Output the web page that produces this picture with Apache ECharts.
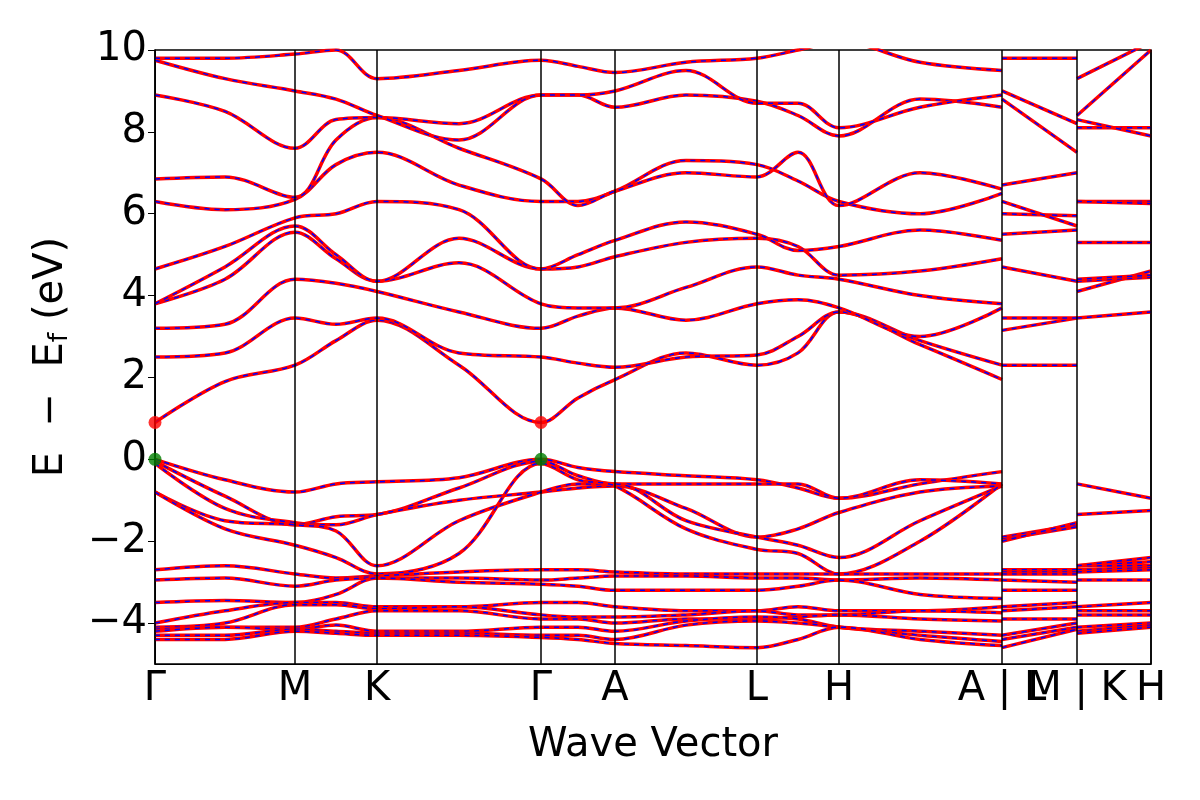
<!DOCTYPE html>
<html>
<head>
<meta charset="utf-8">
<script src="https://cdn.jsdelivr.net/npm/echarts@6/dist/echarts.min.js"></script>
<style>html,body{margin:0;padding:0;background:#fff}#chart{width:1200px;height:800px}</style>
</head>
<body>
<div id="chart"></div>
<script>
// path distances (px-like units) along Γ-M-K-Γ-A-L-H-A, then L|M, K|H segments
var pathX = [0, 70, 140, 181, 222, 304, 386, 423, 460, 531, 602, 643, 684, 765, 847];
var lmX = [847, 922];
var khX = [922, 996];
var kLabels = ["Γ", "M", "K", "Γ", "A", "L", "H", "A | L", "M | K", "H"];
var kPos = [0, 140, 222, 386, 460, 602, 684, 847, 922, 996];

var bands = [
  {p: [0.9,1.9,2.3,2.9,3.4,2.3,0.9,1.5,1.95,2.6,2.3,2.6,3.6,2.8,1.95], lm: [2.3,2.3], kh: [3.45,3.6]},
  {p: [2.5,2.6,3.45,3.3,3.45,2.6,2.5,2.35,2.25,2.5,2.55,3.0,3.6,2.9,2.3], lm: [3.15,3.45], kh: [4.1,4.6]},
  {p: [3.2,3.3,4.4,4.3,4.1,3.6,3.2,3.5,3.7,3.4,3.8,3.9,3.7,3.0,3.7], lm: [3.45,3.45], kh: [4.35,4.45]},
  {p: [3.8,4.4,5.55,4.9,4.35,4.8,3.8,3.7,3.7,4.2,4.7,4.5,4.4,4.0,3.8], lm: [4.7,4.35], kh: [4.4,4.5]},
  {p: [3.8,4.7,5.7,5.0,4.35,5.4,4.65,4.7,4.95,5.3,5.4,5.2,4.5,4.6,4.9], lm: [5.5,5.6], kh: [5.3,5.3]},
  {p: [4.65,5.2,5.9,6.0,6.3,6.1,4.65,5.0,5.35,5.8,5.5,5.1,5.2,5.6,5.35], lm: [6.0,5.95], kh: [6.3,6.3]},
  {p: [6.3,6.1,6.35,7.2,7.5,6.7,6.3,6.3,6.55,7.3,7.2,6.8,6.3,6.0,6.5], lm: [6.3,5.7], kh: [6.3,6.25]},
  {p: [6.85,6.9,6.4,7.8,8.35,7.6,6.85,6.2,6.55,7.0,6.9,7.5,6.2,7.0,6.6], lm: [6.7,7.0], kh: [8.1,8.1]},
  {p: [8.9,8.5,7.6,8.3,8.35,8.2,8.9,8.9,8.6,8.9,8.75,8.4,7.9,8.8,8.6], lm: [8.8,7.5], kh: [8.3,7.9]},
  {p: [9.75,9.3,9.0,8.8,8.4,7.8,8.9,8.9,9.0,9.5,8.7,8.7,8.1,8.6,8.9], lm: [9.0,8.2], kh: [8.4,10.0]},
  {p: [9.8,9.8,9.9,10.0,9.3,9.5,9.75,9.6,9.45,9.7,9.8,10.0,10.2,9.7,9.5], lm: [9.8,9.8], kh: [9.3,10.2]},
  {p: [0,-0.5,-0.8,-0.6,-0.55,-0.45,0,-0.2,-0.3,-0.4,-0.5,-0.7,-0.95,-0.6,-0.3], lm: [-1.9,-1.6], kh: [-0.6,-0.95]},
  {p: [-0.05,-0.9,-1.6,-1.4,-1.35,-0.7,-0.05,-0.4,-0.6,-0.6,-0.6,-0.6,-0.95,-0.5,-0.6], lm: [-1.95,-1.65], kh: [-1.35,-1.25]},
  {p: [-0.1,-1.2,-1.55,-1.6,-1.35,-1.0,-0.8,-0.7,-0.65,-1.2,-1.9,-1.7,-1.3,-0.8,-0.65], lm: [-2.0,-1.55], kh: [-2.6,-2.5]},
  {p: [-0.8,-1.5,-1.6,-1.75,-2.6,-1.5,-0.8,-0.6,-0.6,-1.5,-1.9,-2.1,-2.4,-1.5,-0.65], lm: [-2.7,-2.7], kh: [-2.6,-2.6]},
  {p: [-0.8,-1.7,-2.1,-2.4,-2.8,-2.3,-0.1,-0.5,-0.65,-1.7,-2.2,-2.3,-2.8,-2.0,-0.6], lm: [-2.75,-2.75], kh: [-2.7,-2.65]},
  {p: [-2.7,-2.6,-2.8,-2.9,-2.85,-2.75,-2.7,-2.7,-2.75,-2.8,-2.8,-2.8,-2.8,-2.8,-2.8], lm: [-2.8,-2.8], kh: [-2.6,-2.4]},
  {p: [-2.95,-2.9,-3.1,-2.95,-2.9,-2.9,-2.95,-2.9,-2.85,-2.85,-2.9,-2.9,-2.95,-2.9,-2.95], lm: [-2.95,-3.0], kh: [-2.75,-2.7]},
  {p: [-3.5,-3.45,-3.5,-3.3,-2.9,-3.0,-3.05,-3.1,-3.2,-3.2,-3.2,-3.1,-2.95,-3.3,-3.4], lm: [-3.2,-3.2], kh: [-2.95,-2.95]},
  {p: [-4.0,-3.7,-3.5,-3.5,-3.6,-3.6,-3.5,-3.5,-3.6,-3.7,-3.7,-3.6,-3.7,-3.7,-3.6], lm: [-3.6,-3.5], kh: [-3.6,-3.5]},
  {p: [-4.1,-4.0,-3.55,-3.55,-3.65,-3.6,-3.8,-3.85,-3.85,-3.8,-3.7,-3.8,-3.8,-3.7,-3.75], lm: [-3.7,-3.6], kh: [-3.7,-3.7]},
  {p: [-4.15,-4.1,-4.1,-3.9,-3.7,-3.7,-3.9,-3.9,-4.0,-3.9,-3.9,-3.85,-3.8,-3.9,-3.95], lm: [-3.9,-3.9], kh: [-3.8,-3.8]},
  {p: [-4.2,-4.1,-4.15,-4.05,-4.2,-4.2,-4.1,-4.1,-4.2,-3.95,-3.85,-3.9,-4.1,-4.2,-4.3], lm: [-4.3,-4.0], kh: [-4.1,-4.0]},
  {p: [-4.3,-4.3,-4.15,-4.2,-4.25,-4.25,-4.3,-4.3,-4.4,-4.05,-3.95,-4.0,-4.1,-4.3,-4.45], lm: [-4.4,-4.1], kh: [-4.2,-4.05]},
  {p: [-4.4,-4.4,-4.2,-4.25,-4.3,-4.3,-4.35,-4.4,-4.5,-4.55,-4.6,-4.4,-4.1,-4.4,-4.55], lm: [-4.6,-4.15], kh: [-4.25,-4.1]}
];
var cbmPts = [[0, 0.9], [386, 0.9]];
var vbmPts = [[0, 0], [386, 0]];

var myChart = echarts.init(document.getElementById('chart'));
var series = [];
bands.forEach(function(b){
  var data = [];
  pathX.forEach(function(x, i){ data.push([x, b.p[i]]); });
  data.push(null);
  lmX.forEach(function(x, i){ data.push([x, b.lm[i]]); });
  data.push(null);
  khX.forEach(function(x, i){ data.push([x, b.kh[i]]); });
  series.push({type: 'line', data: data, smooth: 0.35, symbol: 'none', silent: true,
    lineStyle: {color: '#ff0000', width: 3.5}});
  series.push({type: 'line', data: data, smooth: 0.35, symbol: 'none', silent: true,
    lineStyle: {color: '#0000ff', width: 1.5, type: [5, 5]}});
});
series.push({
  type: 'line', data: [], symbol: 'none',
  markLine: {
    silent: true, symbol: 'none', animation: false,
    lineStyle: {color: '#000', width: 1.5, type: 'solid'},
    label: {show: true, position: 'start', formatter: function(p){ return p.name; },
      fontSize: 40, color: '#000', fontFamily: 'DejaVu Sans', distance: 6},
    data: kPos.map(function(x, i){ return {xAxis: x, name: kLabels[i]}; })
  }
});
series.push({type: 'scatter', data: cbmPts, symbolSize: 13, itemStyle: {color: '#ff0000'}, z: 10});
series.push({type: 'scatter', data: vbmPts, symbolSize: 13, itemStyle: {color: '#008000'}, z: 10});

myChart.setOption({
  animation: false,
  backgroundColor: '#fff',
  grid: {left: 155, right: 49, top: 50, bottom: 136, show: true, borderColor: '#000', borderWidth: 1.5},
  xAxis: {
    type: 'value', min: 0, max: 996,
    axisLabel: {show: false}, axisTick: {show: false}, splitLine: {show: false},
    axisLine: {onZero: false, lineStyle: {color: '#000'}},
    name: 'Wave Vector', nameLocation: 'middle', nameGap: 62,
    nameTextStyle: {fontSize: 40, color: '#000', fontFamily: 'DejaVu Sans'}
  },
  yAxis: {
    type: 'value', min: -5, max: 10,
    splitLine: {show: false},
    axisLine: {show: true, lineStyle: {color: '#000'}},
    axisTick: {show: true, length: 7, customValues: [-4, -2, 0, 2, 4, 6, 8, 10], lineStyle: {color: '#000'}},
    axisLabel: {customValues: [-4, -2, 0, 2, 4, 6, 8, 10], fontSize: 40, color: '#000', fontFamily: 'DejaVu Sans',
      formatter: function(v){ return String(v).replace('-', '\u2212'); }},
    name: '{a|E  \u2212  E}{s|f}{a| (eV)}', nameLocation: 'middle', nameGap: 82, nameRotate: 90,
    nameTextStyle: {rich: {
      a: {fontSize: 40, color: '#000', fontFamily: 'DejaVu Sans'},
      s: {fontSize: 27, color: '#000', fontFamily: 'DejaVu Sans', verticalAlign: 'bottom', padding: [16, 0, 0, 0]}
    }}
  },
  series: series
});
</script>
</body>
</html>
